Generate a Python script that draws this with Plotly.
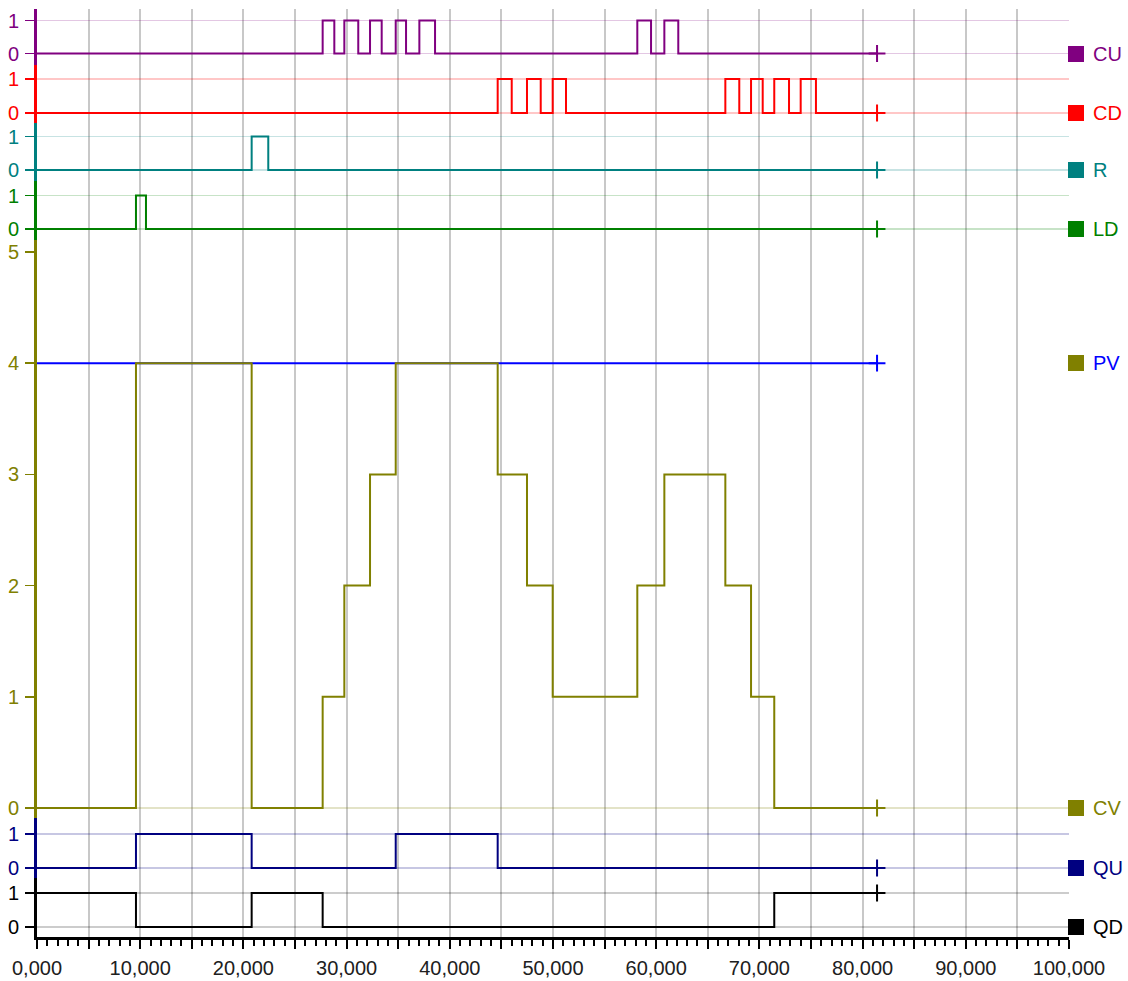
import plotly.graph_objects as go

# ---------------- data ----------------
T_END = 81400

CU_T = [0, 27680, 28810, 29780, 31130, 32270, 33400, 34760, 35760, 37050, 38570, 58170, 59500, 60790, 62140]
CU_V = [0, 1, 0, 1, 0, 1, 0, 1, 0, 1, 0, 1, 0, 1, 0]

CD_T = [0, 44640, 46000, 47480, 48810, 49970, 51260, 66700, 68050, 69190, 70320, 71440, 72870, 74000, 75480]
CD_V = [0, 1, 0, 1, 0, 1, 0, 1, 0, 1, 0, 1, 0, 1, 0]

R_T = [0, 20800, 22410]
R_V = [0, 1, 0]

LD_T = [0, 9590, 10560]
LD_V = [0, 1, 0]

PV_T = [0]
PV_V = [4]

CV_T = [0, 9590, 20800, 27680, 29780, 32270, 34760, 44640, 47480, 49970, 58170, 60790, 66700, 69190, 71440]
CV_V = [0, 4, 0, 1, 2, 3, 4, 3, 2, 1, 2, 3, 2, 1, 0]

QU_T = [0, 9590, 20800, 34760, 44640]
QU_V = [0, 1, 0, 1, 0]

QD_T = [0, 9590, 20800, 27680, 71440]
QD_V = [1, 0, 1, 0, 1]

X_TICKS = list(range(0, 100001, 5000))
X_TICK_TEXT = [(f"{v // 1000},000" if v % 10000 == 0 else "") for v in X_TICKS]

# ---------------- layout geometry (pixels) ----------------
W, H = 1128, 981
PL, PR, PT, PB = 37, 1069, 9, 937
FONT = "Liberation Sans"
FS = 20


def frac(py):
    return (PB - py) / (PB - PT)


lanes = [
    dict(ax="y7", color="#800080", grid="rgba(128,0,128,0.22)", top=PT, bot=65, a=(1, 20.5), b=(0, 53.5), ticks=[0, 1]),
    dict(ax="y6", color="#ff0000", grid="rgba(255,0,0,0.22)", top=65, bot=123, a=(1, 79), b=(0, 113), ticks=[0, 1]),
    dict(ax="y5", color="#008080", grid="rgba(0,128,128,0.22)", top=123, bot=181, a=(1, 136.5), b=(0, 170), ticks=[0, 1]),
    dict(ax="y4", color="#008000", grid="rgba(0,128,0,0.22)", top=181, bot=240, a=(1, 195.5), b=(0, 229), ticks=[0, 1]),
    dict(ax="y3", color="#808000", grid="rgba(128,128,0,0.22)", top=240, bot=818, a=(5, 252), b=(0, 808), ticks=[0, 1, 2, 3, 4, 5]),
    dict(ax="y2", color="#000080", grid="rgba(0,0,128,0.22)", top=818, bot=878, a=(1, 834), b=(0, 868), ticks=[0, 1]),
    dict(ax="y", color="#000000", grid="rgba(0,0,0,0.2)", top=878, bot=PB, a=(1, 893), b=(0, 927), ticks=[0, 1]),
]

layout = dict(
    width=W, height=H,
    margin=dict(l=PL, r=W - PR, t=PT, b=H - PB, autoexpand=False),
    paper_bgcolor="white", plot_bgcolor="white",
    showlegend=False,
    font=dict(family=FONT, size=FS, color="#202020"),
    xaxis=dict(
        anchor="y", range=[0, 100000], tickvals=X_TICKS, ticktext=X_TICK_TEXT,
        showgrid=True, gridcolor="#c8c8c8", gridwidth=2, zeroline=False,
        showline=True, linecolor="black", linewidth=3,
        ticks="outside", ticklen=9, tickwidth=2, tickcolor="black",
        minor=dict(dtick=1000, ticks="outside", ticklen=6, tickwidth=2, tickcolor="black", showgrid=False),
        tickfont=dict(family=FONT, size=FS, color="#202020"),
        ticklabelstandoff=2, fixedrange=True, automargin=False,
    ),
)

for ln in lanes:
    (va, pa), (vb, pb) = ln["a"], ln["b"]
    u = (va - vb) / (pb - pa)
    lo = vb - (ln["bot"] - pb) * u
    hi = va + (pa - ln["top"]) * u
    key = "yaxis" if ln["ax"] == "y" else "yaxis" + ln["ax"][1:]
    is_pv = ln["ax"] == "y3"
    layout[key] = dict(
        domain=[frac(ln["bot"]), frac(ln["top"])], range=[lo, hi], anchor="x",
        tickvals=ln["ticks"], showgrid=not is_pv, gridcolor=ln["grid"], gridwidth=1.5,
        zeroline=is_pv, zerolinecolor=ln["grid"], zerolinewidth=1.5,
        showline=True, linecolor=ln["color"], linewidth=3,
        ticks="outside", ticklen=9, tickwidth=1.5, tickcolor=ln["color"],
        tickfont=dict(family=FONT, size=FS, color=ln["color"]),
        ticklabelstandoff=2, fixedrange=True, automargin=False,
    )

fig = go.Figure(layout=layout)

signals = [
    ("CU", CU_T, CU_V, "y7", "#800080", "#800080", "#800080"),
    ("CD", CD_T, CD_V, "y6", "#ff0000", "#ff0000", "#ff0000"),
    ("R", R_T, R_V, "y5", "#008080", "#008080", "#008080"),
    ("LD", LD_T, LD_V, "y4", "#008000", "#008000", "#008000"),
    ("PV", PV_T, PV_V, "y3", "#0000ff", "#808000", "#0000ff"),
    ("CV", CV_T, CV_V, "y3", "#808000", "#808000", "#808000"),
    ("QU", QU_T, QU_V, "y2", "#000080", "#000080", "#000080"),
    ("QD", QD_T, QD_V, "y", "#000000", "#000000", "#000000"),
]

for name, ts, vs, ax, col, sq, txt in signals:
    xs = list(ts) + [T_END]
    ys = list(vs) + [vs[-1]]
    fig.add_trace(go.Scatter(x=xs, y=ys, mode="lines", line=dict(color=col, width=2, shape="hv"),
                             xaxis="x", yaxis=ax, name=name, hoverinfo="skip"))
    fig.add_trace(go.Scatter(x=[T_END], y=[vs[-1]], mode="markers",
                             marker=dict(symbol="cross-thin", size=12, line=dict(color=col, width=2)),
                             xaxis="x", yaxis=ax, hoverinfo="skip"))
    ylab = vs[-1] if name == "PV" else 0
    # legend square
    fig.add_annotation(
        xref="paper", x=1, xanchor="left", xshift=-1,
        yref=ax, y=ylab, yanchor="middle",
        text=" ", width=16, height=16, bgcolor=sq, borderpad=0, borderwidth=0,
        showarrow=False, font=dict(family=FONT, size=10),
    )
    # legend label
    fig.add_annotation(
        xref="paper", x=1, xanchor="left", xshift=23,
        yref=ax, y=ylab, yanchor="middle", borderpad=0,
        text=name, showarrow=False, font=dict(family=FONT, size=FS, color=txt),
    )

fig.write_html("out.html", config={"displayModeBar": False, "staticPlot": True},
               post_script="document.body.style.margin='0px';")
